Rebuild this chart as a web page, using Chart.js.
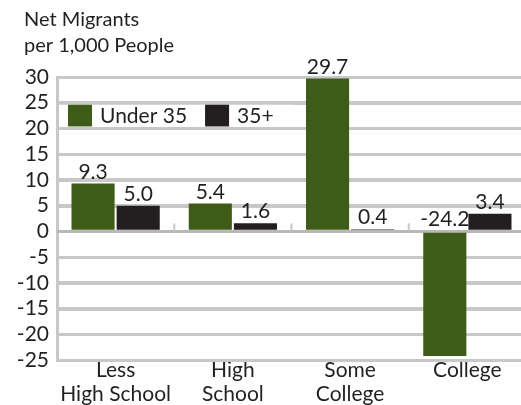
<!DOCTYPE html>
<html>
<head>
<meta charset="utf-8">
<script src="https://cdn.jsdelivr.net/npm/chart.js@4.4.0/dist/chart.umd.min.js"></script>
<style>
  html, body { margin: 0; padding: 0; background: #fff; overflow: hidden; }
  #wrap { width: 526px; height: 405px; position: relative; }
</style>
</head>
<body>
<div id="wrap"><canvas id="myChart"></canvas></div>
<script>
const categories = [['Less', 'High School'], ['High', 'School'], ['Some', 'College'], ['College']];
const under35 = [9.3, 5.4, 29.7, -24.2];
const over35 = [5.0, 1.6, 0.4, 3.4];
const yMin = -25, yMax = 30, yStep = 5;
const titleLines = ['Net Migrants', 'per 1,000 People'];

const FONT = 'Lato, "Open Sans", sans-serif';
const TEXT = '#231f20';
const GRID = '#c8c8c8';

// horizontal grid lines, drawn first so bars sit on top
const gridLines = {
    id: 'gridLines',
    beforeDatasetsDraw(chart) {
        const c = chart.ctx;
        const area = chart.chartArea;
        const x = chart.scales.x, y = chart.scales.y;
        c.save();
        c.strokeStyle = GRID;
        c.lineWidth = 3;
        for (let v = yMin; v <= yMax; v += yStep) {
            const py = Math.round(y.getPixelForValue(v)) + 0.5;
            c.strokeStyle = v === 0 ? '#b8b8b8' : GRID;
            c.beginPath();
            c.moveTo(area.left, py);
            c.lineTo(area.right, py);
            c.stroke();
        }
        // small marks between categories on the zero line
        const zero = y.getPixelForValue(0);
        const w = x.getPixelForValue(1) - x.getPixelForValue(0);
        c.fillStyle = GRID;
        for (let i = 1; i < categories.length; i++) {
            const px = x.getPixelForValue(i) - w / 2;
            c.fillRect(px - 1, zero - 8, 2, 8);
        }
        c.restore();
    }
};

// title, legend, value labels
const extras = {
    id: 'extras',
    afterDraw(chart) {
        const c = chart.ctx;
        const x = chart.scales.x, y = chart.scales.y;
        c.save();
        c.fillStyle = TEXT;
        c.font = '20px ' + FONT;
        c.textAlign = 'left';
        c.textBaseline = 'alphabetic';
        c.fillText(titleLines[0], 24, 26);
        c.fillText(titleLines[1], 24, 52);

        const zero = y.getPixelForValue(0);
        c.font = '21px ' + FONT;
        c.textAlign = 'center';
        chart.data.datasets.forEach((ds, di) => {
            const meta = chart.getDatasetMeta(di);
            meta.data.forEach((bar, i) => {
                const v = ds.data[i];
                const top = v >= 0 ? bar.y : zero;
                c.fillText(v.toFixed(1), bar.x, top - 5);
            });
        });

        // legend inside the plot, between the 25 and 20 lines
        const ly = y.getPixelForValue(25) + 2;
        const lh = y.getPixelForValue(20) - ly - 2;
        c.fillStyle = '#fff';
        c.fillRect(x.left + 2, ly, 235, lh);
        let lx = 68;
        c.textAlign = 'left';
        c.textBaseline = 'middle';
        chart.data.datasets.forEach((ds) => {
            c.fillStyle = ds.backgroundColor;
            c.fillRect(lx, ly, 24, lh);
            c.fillStyle = TEXT;
            c.fillText(ds.label, lx + 32, ly + lh / 2 + 1);
            lx += 32 + c.measureText(ds.label).width + 18;
        });
        c.restore();
    }
};

new Chart(document.getElementById('myChart'), {
    type: 'bar',
    data: {
        labels: categories,
        datasets: [{
            label: 'Under 35',
            data: under35,
            backgroundColor: '#3e5b17',
            categoryPercentage: 0.77,
            barPercentage: 0.955
        },
        {
            label: '35+',
            data: over35,
            backgroundColor: '#231f20',
            categoryPercentage: 0.77,
            barPercentage: 0.955
        }]
    },
    options: {
        responsive: true,
        maintainAspectRatio: false,
        animation: false,
        layout: { padding: { top: 77, right: 0, left: 0, bottom: 0 } },
        plugins: {
            legend: { display: false },
            tooltip: { enabled: false }
        },
        scales: {
            x: {
                afterFit(axis) { axis.height = 45; },
                grid: { display: false, drawTicks: false },
                border: { display: true, color: GRID, width: 2 },
                ticks: {
                    color: TEXT,
                    font: { family: FONT, size: 21, lineHeight: 1.15 },
                    padding: -2,
                    maxRotation: 0,
                    autoSkip: false
                }
            },
            y: {
                min: yMin,
                max: yMax,
                afterFit(axis) { axis.width = 57; },
                grid: { display: true, color: GRID, lineWidth: 3, drawTicks: false },
                border: { display: true, color: GRID, width: 3 },
                ticks: {
                    stepSize: yStep,
                    autoSkip: false,
                    color: TEXT,
                    font: { family: FONT, size: 21 },
                    padding: 8
                }
            }
        }
    },
    plugins: [gridLines, extras]
});
</script>
</body>
</html>
